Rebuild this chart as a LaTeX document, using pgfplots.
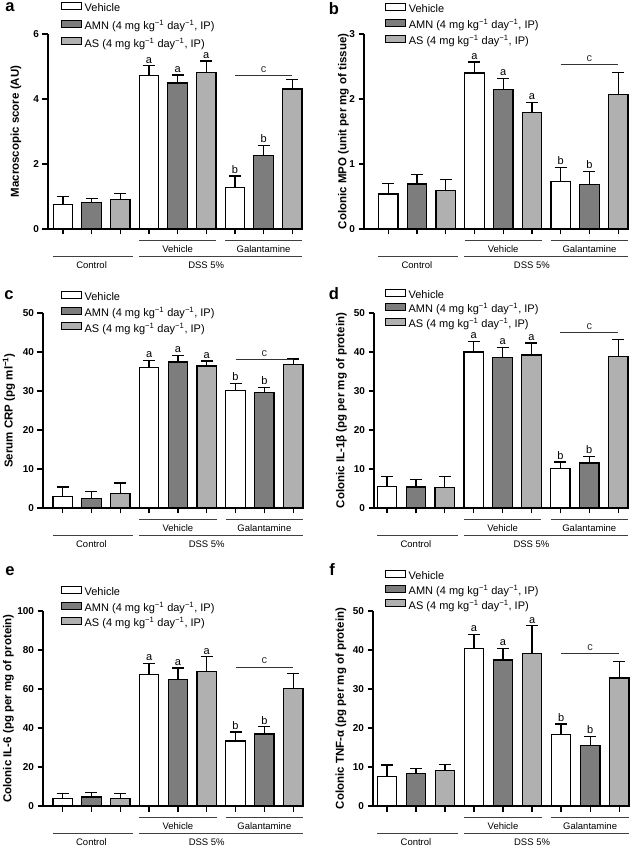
\documentclass[border=0pt]{standalone}
\usepackage{fontspec}
\setmainfont{Liberation Sans}
\usepackage{pgfplots}
\pgfplotsset{compat=1.18}
\usetikzlibrary{calc}

\definecolor{amn}{HTML}{7D7D7D}
\definecolor{asg}{HTML}{B0B0B0}

\newcommand{\amntxt}{AMN (4 mg kg\textsuperscript{−1} day\textsuperscript{−1}, IP)}
\newcommand{\astxt}{AS (4 mg kg\textsuperscript{−1} day\textsuperscript{−1}, IP)}

\pgfplotsset{
  leg/.style={legend image code/.code={\draw[black, line width=1pt, fill=#1] (0pt,-0.5pt) rectangle (20pt,6.5pt);}},
  bars/.style={ybar, bar width=19.5pt, bar shift=0pt, draw=black, line width=1.3pt, forget plot,
    error bars/y dir=plus, error bars/y explicit,
    error bars/error bar style={line width=1.2pt, black},
    error bars/error mark options={rotate=90, mark size=6pt, line width=1.2pt, black}},
  panel/.style={
    scale only axis, height=195pt,
    xmax=8.34, ymin=0,
    axis lines*=left,
    every outer x axis line/.append style={-},
    every outer y axis line/.append style={-},
    every inner x axis line/.append style={-},
    every inner y axis line/.append style={-},
    axis line style={-, line width=1.6pt, black},
    xtick={0,...,8}, xticklabels={},
    tick align=outside, major tick length=5.5pt,
    every tick/.style={black, line width=1.2pt},
    yticklabel style={font=\fontsize{10}{12}\selectfont\bfseries},
    /pgf/number format/assume math mode=true,
    ylabel style={font=\fontsize{11.5}{13}\selectfont\bfseries, anchor=center},
    clip=false,
    legend cell align=left,
    legend style={draw=none, fill=none, anchor=north west, inner sep=0pt, column sep=0pt,
      nodes={inner ysep=0pt, inner xsep=2.5pt, text height=8pt, text depth=2.5pt,
        font=\fontsize{11}{13}\selectfont}},
  },
}
\tikzset{
  lett/.style={anchor=south, inner sep=0.5pt, yshift=2pt, font=\fontsize{11}{13}\selectfont},
  cline/.style={line width=0.9pt, black!80},
  grp/.style={line width=0.8pt, black!75},
  glab/.style={font=\fontsize{9.5}{11}\selectfont, inner sep=0pt},
  plab/.style={font=\fontsize{16.5}{18}\selectfont\bfseries, inner sep=0pt},
}

\newcommand{\legendentries}{%
  \addlegendimage{leg=white}\addlegendentry{Vehicle}
  \addlegendimage{leg=amn}\addlegendentry{\amntxt}
  \addlegendimage{leg=asg}\addlegendentry{\astxt}
}

\newcommand{\grouplabels}{%
  \draw[grp] ([yshift=-11pt]axis cs:2.66,0) -- ([yshift=-11pt]axis cs:5.34,0);
  \draw[grp] ([yshift=-11pt]axis cs:5.66,0) -- ([yshift=-11pt]axis cs:8.34,0);
  \node[glab] at ([yshift=-20.5pt]axis cs:4,0) {Vehicle};
  \node[glab] at ([yshift=-20.5pt]axis cs:7,0) {Galantamine};
  \draw[grp] ([yshift=-27.5pt]axis cs:-0.34,0) -- ([yshift=-27.5pt]axis cs:2.44,0);
  \draw[grp] ([yshift=-27.5pt]axis cs:2.65,0) -- ([yshift=-27.5pt]axis cs:8.34,0);
  \node[glab] at ([yshift=-36.5pt]axis cs:1,0) {Control};
  \node[glab] at ([yshift=-36.5pt]axis cs:5,0) {DSS 5\%};
}

\newcommand{\letters}[6]{%
  \node[lett] at (axis cs:3,#1) {a};
  \node[lett] at (axis cs:4,#2) {a};
  \node[lett] at (axis cs:5,#3) {a};
  \node[lett] at (axis cs:6,#4) {b};
  \node[lett] at (axis cs:7,#5) {b};
  \draw[cline] (axis cs:6,#6) -- (axis cs:8,#6) node[midway, lett] {c};
}

\begin{document}
\begin{tikzpicture}
\path[use as bounding box] (0,0) rectangle (635pt,847pt);

% a: macroscopic score
\begin{axis}[panel, at={(48pt,618pt)}, anchor=south west, width=254pt,
  xmin=-0.52, ymax=6, ytick={0,2,4,6},
  ylabel={Macroscopic score (AU)},
  ylabel style={at={(axis description cs:-0.126,0.5)}},
  legend style={at={(axis description cs:0.051,1.164)}, row sep=5.3pt}]
\legendentries
\addplot[bars, fill=white] coordinates {(0,0.75) +- (0,0.25) (3,4.72) +- (0,0.30) (6,1.28) +- (0,0.35)};
\addplot[bars, fill=amn] coordinates {(1,0.82) +- (0,0.12) (4,4.49) +- (0,0.25) (7,2.27) +- (0,0.31)};
\addplot[bars, fill=asg] coordinates {(2,0.90) +- (0,0.18) (5,4.82) +- (0,0.35) (8,4.31) +- (0,0.28)};
\letters{5.02}{4.74}{5.17}{1.63}{2.58}{4.72}
\grouplabels
\end{axis}

% b: colonic MPO
\begin{axis}[panel, at={(364pt,618pt)}, anchor=south west, width=264pt,
  xmin=-0.84, ymax=3, ytick={0,1,2,3},
  ylabel={Colonic MPO (unit per mg of tissue)},
  ylabel style={at={(axis description cs:-0.078,0.5)}},
  legend style={at={(axis description cs:0.08,1.161)}, row sep=3.8pt}]
\legendentries
\addplot[bars, fill=white] coordinates {(0,0.54) +- (0,0.16) (3,2.40) +- (0,0.17) (6,0.73) +- (0,0.22)};
\addplot[bars, fill=amn] coordinates {(1,0.69) +- (0,0.15) (4,2.15) +- (0,0.17) (7,0.68) +- (0,0.20)};
\addplot[bars, fill=asg] coordinates {(2,0.59) +- (0,0.17) (5,1.79) +- (0,0.16) (8,2.07) +- (0,0.34)};
\letters{2.57}{2.32}{1.95}{0.95}{0.88}{2.53}
\grouplabels
\end{axis}

% c: serum CRP
\begin{axis}[panel, at={(43pt,339pt)}, anchor=south west, width=260pt,
  xmin=-0.68, ymax=50, ytick={0,10,...,50},
  ylabel={Serum CRP (pg ml\textsuperscript{−1})},
  ylabel style={at={(axis description cs:-0.131,0.5)}},
  legend style={at={(axis description cs:0.069,1.113)}, row sep=3.4pt}]
\legendentries
\addplot[bars, fill=white] coordinates {(0,3.0) +- (0,2.4) (3,36.0) +- (0,1.9) (6,30.2) +- (0,1.8)};
\addplot[bars, fill=amn] coordinates {(1,2.4) +- (0,1.9) (4,37.4) +- (0,1.8) (7,29.7) +- (0,1.2)};
\addplot[bars, fill=asg] coordinates {(2,3.8) +- (0,2.6) (5,36.4) +- (0,1.3) (8,36.8) +- (0,1.4)};
\letters{37.9}{39.2}{37.7}{32.0}{30.9}{38.0}
\grouplabels
\end{axis}

% d: colonic IL-1beta
\begin{axis}[panel, at={(374pt,339pt)}, anchor=south west, width=254pt,
  xmin=-0.45, ymax=50, ytick={0,10,...,50},
  ylabel={Colonic IL-1β (pg per mg of protein)},
  ylabel style={at={(axis description cs:-0.128,0.5)}},
  legend style={at={(axis description cs:0.043,1.125)}, row sep=2.1pt}]
\legendentries
\addplot[bars, fill=white] coordinates {(0,5.5) +- (0,2.6) (3,40.0) +- (0,2.7) (6,10.1) +- (0,1.7)};
\addplot[bars, fill=amn] coordinates {(1,5.4) +- (0,2.0) (4,38.5) +- (0,2.6) (7,11.5) +- (0,1.7)};
\addplot[bars, fill=asg] coordinates {(2,5.2) +- (0,2.9) (5,39.2) +- (0,3.1) (8,38.9) +- (0,4.3)};
\letters{42.7}{41.1}{42.3}{11.8}{13.2}{45.1}
\grouplabels
\end{axis}

% e: colonic IL-6
\begin{axis}[panel, at={(43pt,41pt)}, anchor=south west, width=260pt,
  xmin=-0.68, ymax=100, ytick={0,20,...,100},
  ylabel={Colonic IL-6 (pg per mg of protein)},
  ylabel style={at={(axis description cs:-0.133,0.5)}},
  legend style={at={(axis description cs:0.069,1.128)}, row sep=3.1pt}]
\legendentries
\addplot[bars, fill=white] coordinates {(0,3.9) +- (0,2.6) (3,67.4) +- (0,5.6) (6,33.4) +- (0,4.5)};
\addplot[bars, fill=amn] coordinates {(1,4.6) +- (0,2.2) (4,64.8) +- (0,6.0) (7,36.9) +- (0,3.7)};
\addplot[bars, fill=asg] coordinates {(2,3.8) +- (0,2.7) (5,69.1) +- (0,7.4) (8,60.2) +- (0,7.7)};
\letters{73.0}{70.8}{76.5}{37.9}{40.6}{71.3}
\grouplabels
\end{axis}

% f: colonic TNF-alpha
\begin{axis}[panel, at={(373pt,41pt)}, anchor=south west, width=256pt,
  xmin=-0.48, ymax=50, ytick={0,10,...,50},
  ylabel={Colonic TNF-α (pg per mg of protein)},
  ylabel style={at={(axis description cs:-0.125,0.5)}},
  legend style={at={(axis description cs:0.047,1.21)}, row sep=2.3pt}]
\legendentries
\addplot[bars, fill=white] coordinates {(0,7.5) +- (0,3.0) (3,40.4) +- (0,3.6) (6,18.3) +- (0,2.7)};
\addplot[bars, fill=amn] coordinates {(1,8.3) +- (0,1.3) (4,37.4) +- (0,3.0) (7,15.5) +- (0,2.4)};
\addplot[bars, fill=asg] coordinates {(2,9.1) +- (0,1.5) (5,39.1) +- (0,7.1) (8,32.8) +- (0,4.2)};
\letters{44.0}{40.4}{46.2}{21.0}{17.9}{39.1}
\grouplabels
\end{axis}

% panel letters
\node[plab] at (10pt,839.5pt) {a};
\node[plab] at (334pt,838pt) {b};
\node[plab] at (9pt,552pt) {c};
\node[plab] at (334pt,553pt) {d};
\node[plab] at (10pt,276pt) {e};
\node[plab] at (332pt,277pt) {f};
\end{tikzpicture}
\end{document}
